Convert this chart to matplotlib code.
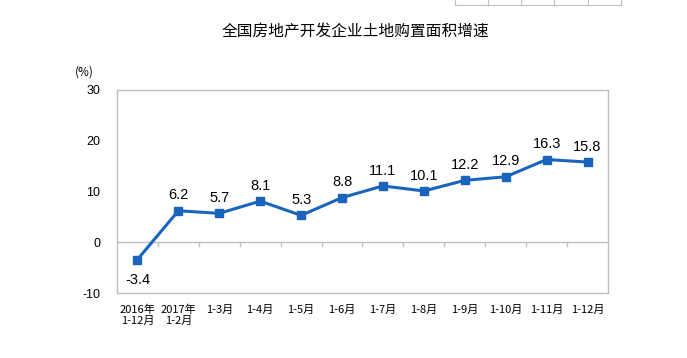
import matplotlib
matplotlib.use("Agg")
import matplotlib.pyplot as plt
from matplotlib.lines import Line2D
import matplotlib.transforms as mtransforms

plt.rcParams['font.family'] = ['Liberation Sans', 'Noto Sans CJK SC', 'DejaVu Sans']

categories = ["2016年\n1-12月", "2017年\n1-2月", "1-3月", "1-4月", "1-5月", "1-6月",
              "1-7月", "1-8月", "1-9月", "1-10月", "1-11月", "1-12月"]
values = [-3.4, 6.2, 5.7, 8.1, 5.3, 8.8, 11.1, 10.1, 12.2, 12.9, 16.3, 15.8]
yticks = [-10, 0, 10, 20, 30]
title = "全国房地产开发企业土地购置面积增速"

W, H = 687, 358
fig = plt.figure(figsize=(W / 100, H / 100), dpi=100)
ax = fig.add_axes([117 / W, 65 / H, 491 / W, 203 / H])

color = "#1A64BE"
x = list(range(len(values)))
ax.plot(x, values, color=color, lw=2.2, marker="s", ms=5.5, zorder=3)

for xi, v in zip(x, values):
    if v < 0:
        ax.annotate(f"{v:g}", (xi, v), xytext=(0, -10), textcoords="offset points",
                    ha="center", va="top", fontsize=10.5)
    else:
        ax.annotate(f"{v:g}", (xi, v), xytext=(0, 6), textcoords="offset points",
                    ha="center", va="bottom", fontsize=10.5)

ax.set_xlim(-0.5, len(values) - 0.5)
ax.set_ylim(-10, 30)
ax.set_yticks(yticks)
ax.set_yticklabels([str(t) for t in yticks], fontsize=9)
ax.tick_params(axis="y", length=0, pad=12)
ax.set_xticks([])

for s in ax.spines.values():
    s.set_color("#BFBFBF")
    s.set_linewidth(1)

# zero line with category boundary ticks
ax.axhline(0, color="#BFBFBF", lw=1, zorder=1)
for b in range(1, len(values)):
    ax.plot([b - 0.5, b - 0.5], [0, -0.8], color="#BFBFBF", lw=1, zorder=1)

# category labels below the frame
off = mtransforms.offset_copy(ax.transData, fig=fig, x=0, y=-12, units="dots")
for xi, lab in zip(x, categories):
    ax.text(xi, -10, lab, transform=off, ha="center", va="top",
            fontsize=8, family=['Noto Sans CJK SC', 'DejaVu Sans'],
            linespacing=1.1)

fig.text(75 / W, 1 - 72 / H, "(%)", ha="left", va="center", fontsize=8.5,
         family=['Noto Sans CJK SC', 'DejaVu Sans'])
fig.text(355 / W, 1 - 32 / H, title, ha="center", va="center", fontsize=11.3,
         family=['Noto Sans CJK SC', 'DejaVu Sans'])

# small table fragment at top
for xx in [455, 488, 521, 554, 588, 621]:
    fig.add_artist(Line2D([xx / W, xx / W], [1, 1 - 5 / H], color="#BFBFBF", lw=0.8))
fig.add_artist(Line2D([455 / W, 621 / W], [1 - 5 / H, 1 - 5 / H], color="#BFBFBF", lw=0.8))

fig.savefig("out.png", dpi=100)
